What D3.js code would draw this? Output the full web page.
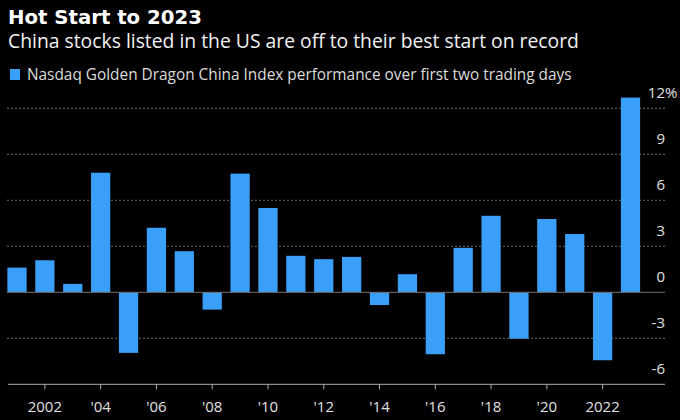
<!DOCTYPE html>
<html>
<head>
<meta charset="utf-8">
<script src="https://cdn.jsdelivr.net/npm/d3@7"></script>
<style>
  html, body { margin: 0; padding: 0; background: #000; }
  svg { display: block; }
</style>
</head>
<body>
<svg id="chart" width="680" height="420"></svg>
<script>
// ---- data ----
const years = [2001, 2002, 2003, 2004, 2005, 2006, 2007, 2008, 2009, 2010, 2011, 2012,
               2013, 2014, 2015, 2016, 2017, 2018, 2019, 2020, 2021, 2022, 2023];
const values = [1.61, 2.09, 0.55, 7.8, -3.95, 4.21, 2.68, -1.13, 7.74, 5.5, 2.38, 2.16,
                2.31, -0.83, 1.18, -4.04, 2.9, 4.99, -3.03, 4.78, 3.8, -4.43, 12.7];
const yTicks = [-6, -3, 0, 3, 6, 9, 12];
const xTickYears = [2002, 2004, 2006, 2008, 2010, 2012, 2014, 2016, 2018, 2020, 2022];
const xTickLabels = ["2002", "'04", "'06", "'08", "'10", "'12", "'14", "'16", "'18", "'20", "2022"];
const title = "Hot Start to 2023";
const subtitle = "China stocks listed in the US are off to their best start on record";
const legendLabel = "Nasdaq Golden Dragon China Index performance over first two trading days";

// ---- layout ----
const svg = d3.select("#chart");
const BLUE = "#3a9ff8";
const plotLeft = 7, plotRight = 665;
const font = "'Open Sans', 'Noto Sans', sans-serif";

const x = d3.scaleBand().domain(years).range([3.05, 644.45]).paddingInner(0.31).paddingOuter(0.155);
const y = d3.scaleLinear().domain([-6, 12]).range([384.3, 108.3]);

function fit(sel, target) {
  const node = sel.node();
  const fs = parseFloat(sel.attr("font-size"));
  const w = node.getComputedTextLength();
  if (w > 0) sel.attr("font-size", (fs * target / w).toFixed(2));
}

// titles
const t1 = svg.append("text").attr("x", 8).attr("y", 24)
  .attr("font-family", "'DejaVu Sans', sans-serif").attr("font-weight", "bold")
  .attr("font-size", 20).attr("fill", "#fff").text(title);
fit(t1, 194);
const t2 = svg.append("text").attr("x", 8).attr("y", 48)
  .attr("font-family", font).attr("font-size", 18).attr("fill", "#f2f2f2").text(subtitle);
fit(t2, 571);

// legend
svg.append("rect").attr("x", 10).attr("y", 69).attr("width", 10).attr("height", 11).attr("fill", BLUE);
const t3 = svg.append("text").attr("x", 27).attr("y", 80)
  .attr("font-family", font).attr("font-size", 14).attr("fill", "#dcdcdc").text(legendLabel);
fit(t3, 545);

// gridlines (dotted), excluding 0 and -6
const g = svg.append("g");
g.selectAll("line.grid").data(yTicks.filter(d => d !== 0 && d !== -6)).join("line")
  .attr("class", "grid")
  .attr("x1", plotLeft).attr("x2", plotRight)
  .attr("y1", d => y(d)).attr("y2", d => y(d))
  .attr("stroke", "#6a6a6a").attr("stroke-width", 1)
  .attr("stroke-dasharray", "2,2");

// y labels
const yl = svg.append("g").attr("font-family", font).attr("font-size", 15).attr("fill", "#e0e0e0");
yl.selectAll("text").data(yTicks).join("text")
  .attr("x", 665).attr("y", d => y(d) - 10)
  .attr("text-anchor", "end")
  .text(d => d);
yl.append("text").attr("x", 665).attr("y", y(12) - 10).attr("text-anchor", "start").text("%");

// bars
svg.append("g").selectAll("rect").data(years.map((yr, i) => ({yr, v: values[i]}))).join("rect")
  .attr("x", d => x(d.yr))
  .attr("width", x.bandwidth())
  .attr("y", d => y(Math.max(0, d.v)))
  .attr("height", d => Math.abs(y(d.v) - y(0)))
  .attr("fill", BLUE);

// zero line
svg.append("line").attr("x1", plotLeft).attr("x2", plotRight)
  .attr("y1", y(0)).attr("y2", y(0))
  .attr("stroke", "#77706a").attr("stroke-width", 1);

// x axis
const xa = svg.append("g");
xa.append("line").attr("x1", plotLeft + 1).attr("x2", plotRight)
  .attr("y1", y(-6)).attr("y2", y(-6)).attr("stroke", "#b0b0b0").attr("stroke-width", 1);
xa.selectAll("line.tick").data(xTickYears).join("line").attr("class", "tick")
  .attr("x1", d => x(d) + x.bandwidth() / 2).attr("x2", d => x(d) + x.bandwidth() / 2)
  .attr("y1", y(-6)).attr("y2", y(-6) + 5).attr("stroke", "#b0b0b0").attr("stroke-width", 1);
xa.selectAll("text").data(xTickYears).join("text")
  .attr("x", d => x(d) + x.bandwidth() / 2).attr("y", 412)
  .attr("text-anchor", "middle")
  .attr("font-family", font).attr("font-size", 15).attr("fill", "#e0e0e0")
  .text((d, i) => xTickLabels[i]);
</script>
</body>
</html>
